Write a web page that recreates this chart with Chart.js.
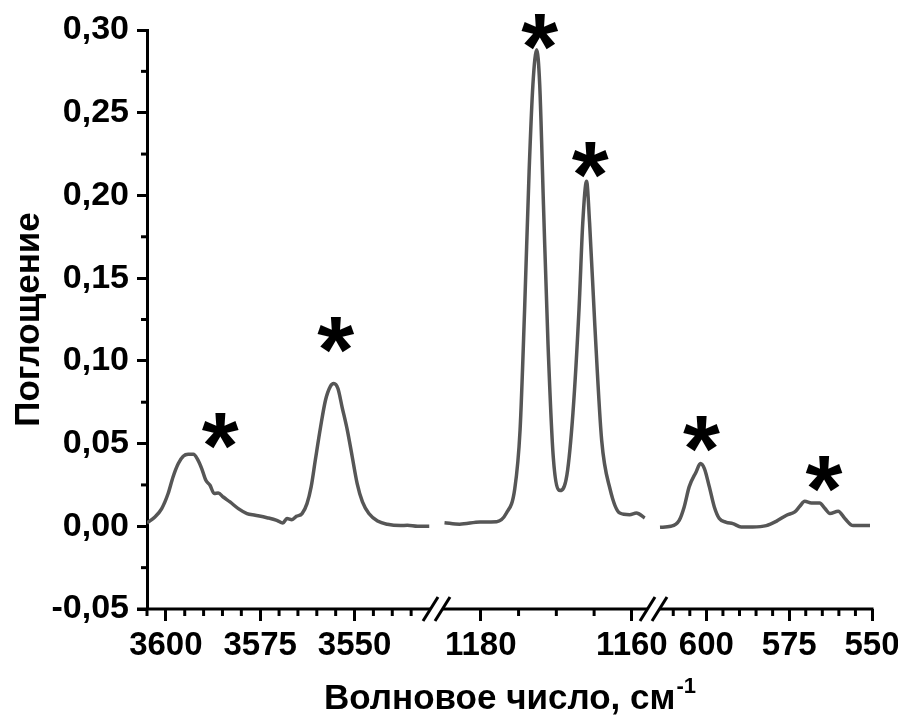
<!DOCTYPE html>
<html>
<head>
<meta charset="utf-8">
<style>
  html, body { margin: 0; padding: 0; background: #fff; }
</style>
<script src="https://cdn.jsdelivr.net/npm/chart.js@4.4.1/dist/chart.umd.min.js"></script>
</head>
<body>
<canvas id="myChart" width="898" height="722"></canvas>
<script>
// spectrum pieces, wavenumber (cm-1) and absorbance
const wn1 = [3605.0, 3602.9, 3601.1, 3599.4, 3598.1, 3596.7, 3595.4, 3594.1, 3592.7, 3591.7, 3590.5, 3589.4,
  3588.3, 3587.2, 3586.1, 3584.8, 3583.0, 3580.8, 3578.5, 3576.3, 3573.2, 3570.6, 3569.0, 3567.9, 3566.6,
  3565.4, 3563.9, 3562.6, 3561.5, 3560.4, 3559.0, 3557.7, 3556.4, 3555.5, 3554.4, 3553.3, 3551.9, 3550.6,
  3549.3, 3547.9, 3546.2, 3543.9, 3541.3, 3537.8, 3536.0, 3533.3, 3530.2];
const abs1 = [0.002, 0.0056, 0.0107, 0.0198, 0.0298, 0.0379, 0.0423, 0.0435, 0.0435, 0.0409, 0.0349, 0.0278,
  0.0248, 0.0198, 0.0201, 0.0177, 0.0147, 0.0107, 0.0077, 0.0067, 0.0052, 0.0036, 0.002, 0.0047, 0.004,
  0.006, 0.0077, 0.0137, 0.0238, 0.0399, 0.060, 0.0762, 0.0846, 0.0863, 0.0833, 0.0721, 0.058, 0.0419,
  0.0258, 0.0147, 0.0077, 0.0032, 0.0012, 0.0004, 0.0006, 0.0, 0.0];

const wn2 = [1184.8, 1182.8, 1180.1, 1177.9, 1176.6, 1175.5, 1174.8, 1174.2, 1173.6, 1173.1, 1172.6, 1172.2,
  1171.7, 1171.1, 1170.4, 1169.5, 1168.6, 1167.8, 1167.0, 1166.5, 1166.0, 1165.6, 1164.9, 1164.0, 1162.9,
  1161.6, 1160.3, 1159.4, 1158.3];
const abs2 = [0.0022, 0.0013, 0.0026, 0.0028, 0.0080, 0.0227, 0.0582, 0.131, 0.2148, 0.267, 0.288, 0.267,
  0.194, 0.110, 0.0415, 0.0216, 0.031, 0.0686, 0.131, 0.1835, 0.2086, 0.1835, 0.121, 0.052, 0.0227,
  0.008, 0.007, 0.008, 0.005];

const wn3 = [614.0, 610.7, 608.2, 606.7, 605.2, 603.1, 601.8, 600.6, 599.1, 597.6, 596.1, 594.0, 592.0, 589.5,
  586.0, 581.9, 578.9, 575.8, 573.3, 571.8, 570.3, 568.3, 565.8, 564.2, 562.7, 560.2, 558.2, 555.7, 550.6];
const abs3 = [-0.0006, 0.0, 0.0036, 0.0117, 0.0238, 0.0328, 0.0379, 0.0349, 0.0238, 0.0117, 0.0047, 0.0024,
  0.0016, -0.0004, -0.0004, 0.0004, 0.003, 0.0067, 0.0087, 0.0121, 0.0151, 0.0141, 0.0141, 0.0107, 0.0077,
  0.0091, 0.0047, 0.0004, 0.0004];

// asterisks over the marked bands
const starWn = [3585.6, 3555, 1172.2, 1165.5, 601.5, 564.5];
const starAbs = [0.0575, 0.1155, 0.299, 0.2215, 0.0556, 0.0318];

const xMajor = [3600, 3575, 3550, 1180, 1160, 600, 575, 550];
const xMinor = [3605, 3595, 3590, 3585, 3580, 3570, 3565, 3560, 3555, 3545, 3540, 3535,
  1175, 1170, 1165,
  610, 605, 595, 590, 585, 580, 570, 565, 560, 555];
const yMajor = [-0.05, 0, 0.05, 0.10, 0.15, 0.20, 0.25, 0.30];
const yMinor = [-0.025, 0.025, 0.075, 0.125, 0.175, 0.225, 0.275];

// broken x axis: each piece of wavenumbers gets a share of the width
const pieces = [
  { from: 3605, to: 3530, v0: 0, v1: 283 },
  { from: 1185, to: 1158, v0: 296, v1: 500 },
  { from: 614, to: 550, v0: 513, v1: 725 },
];
const vTotal = 725;

const toVirtual = (w) => {
  for (const p of pieces) {
    if (w <= p.from + 0.01 && w >= p.to - 0.01) {
      return p.v0 + (p.from - w) / (p.from - p.to) * (p.v1 - p.v0);
    }
  }
  return NaN;
};

class BrokenScale extends Chart.LinearScale {
  getPixelForValue(value) {
    return this.left + this.width * toVirtual(value) / vTotal;
  }
}
BrokenScale.id = 'broken';
BrokenScale.defaults = Chart.LinearScale.defaults;
Chart.register(BrokenScale);

const FONT = '"Liberation Sans", Arial, sans-serif';
Chart.defaults.font.family = FONT;

const lineDs = (w, a) => ({
  data: w.map((x, i) => ({ x: x, y: a[i] })),
  borderColor: '#565656',
  borderWidth: 3.5,
  pointRadius: 0,
  cubicInterpolationMode: 'monotone',
  fill: false,
});

const decor = {
  id: 'decor',
  afterDraw(chart) {
    const c = chart.ctx;
    const xs = chart.scales.x;
    const ys = chart.scales.y;
    const area = chart.chartArea;
    c.save();
    c.strokeStyle = '#000';
    c.fillStyle = '#000';
    c.lineWidth = 3;

    // broken x axis line with // marks
    const y0 = xs.top;
    const breaks = [];
    for (let i = 0; i < pieces.length - 1; i++) {
      breaks.push(xs.left + xs.width * (pieces[i].v1 + pieces[i + 1].v0) / 2 / vTotal);
    }
    let start = area.left - 10;
    breaks.forEach(bx => {
      c.beginPath();
      c.moveTo(start, y0);
      c.lineTo(bx - 6, y0);
      c.stroke();
      [-6, 6].forEach(off => {
        c.beginPath();
        c.moveTo(bx + off - 7.5, y0 + 12);
        c.lineTo(bx + off + 7.5, y0 - 12);
        c.stroke();
      });
      start = bx + 6;
    });
    c.beginPath();
    c.moveTo(start, y0);
    c.lineTo(area.right + 1.5, y0);
    c.stroke();

    // minor ticks
    xMinor.forEach(w => {
      const px = xs.getPixelForValue(w);
      c.beginPath();
      c.moveTo(px, y0);
      c.lineTo(px, y0 + 7);
      c.stroke();
    });
    yMinor.forEach(v => {
      const py = ys.getPixelForValue(v);
      c.beginPath();
      c.moveTo(area.left, py);
      c.lineTo(area.left - 6, py);
      c.stroke();
    });

    // asterisks
    c.font = 'bold 100px ' + FONT;
    let m = c.measureText('*');
    const size = 100 * 37 / (m.actualBoundingBoxLeft + m.actualBoundingBoxRight);
    c.font = 'bold ' + size + 'px ' + FONT;
    m = c.measureText('*');
    c.textAlign = 'left';
    c.textBaseline = 'alphabetic';
    starWn.forEach((w, i) => {
      const cx = xs.getPixelForValue(w);
      const cy = ys.getPixelForValue(starAbs[i]);
      const tx = cx - (m.actualBoundingBoxRight - m.actualBoundingBoxLeft) / 2;
      const ty = cy + (m.actualBoundingBoxAscent - m.actualBoundingBoxDescent) / 2;
      c.fillText('*', tx, ty);
    });

    // x axis title with superscript
    const main = 'Волновое число, см';
    const sup = '-1';
    c.font = 'bold 35px ' + FONT;
    const w1 = c.measureText(main).width;
    c.font = 'bold 22px ' + FONT;
    const w2 = c.measureText(sup).width;
    const tx0 = (area.left + area.right) / 2 - (w1 + w2) / 2;
    const base = 709;
    c.font = 'bold 35px ' + FONT;
    c.fillText(main, tx0, base);
    c.font = 'bold 22px ' + FONT;
    c.fillText(sup, tx0 + w1 + 1, base - 16);
    c.restore();
  }
};

const ctx = document.getElementById('myChart');
new Chart(ctx, {
  type: 'line',
  data: {
    datasets: [lineDs(wn1, abs1), lineDs(wn2, abs2), lineDs(wn3, abs3)]
  },
  options: {
    responsive: false,
    animation: false,
    events: [],
    layout: { padding: { top: 30, right: 26, bottom: 0, left: 0 } },
    plugins: {
      legend: { display: false },
      tooltip: { enabled: false },
    },
    scales: {
      x: {
        type: 'broken',
        min: 550,
        max: 3605,
        afterBuildTicks: s => { s.ticks = xMajor.map(v => ({ value: v })); },
        afterFit: s => { s.height = 113; s.paddingLeft = 0; s.paddingRight = 0; },
        ticks: {
          autoSkip: false,
          maxRotation: 0,
          padding: 5,
          color: '#000',
          font: { size: 33, weight: 'bold' },
          callback: v => String(v),
        },
        grid: { drawOnChartArea: false, drawTicks: true, tickLength: 12, tickWidth: 3, tickColor: '#000' },
        border: { display: false },
      },
      y: {
        min: -0.05,
        max: 0.30,
        afterBuildTicks: s => { s.ticks = yMajor.map(v => ({ value: v })); },
        afterFit: s => { s.width = 147; s.paddingTop = 0; s.paddingBottom = 0; },
        ticks: {
          padding: 8,
          color: '#000',
          font: { size: 34, weight: 'bold' },
          callback: v => v.toFixed(2).replace('.', ','),
        },
        grid: { drawOnChartArea: false, drawTicks: true, tickLength: 10, tickWidth: 3, tickColor: '#000' },
        border: { display: true, color: '#000', width: 3 },
        title: {
          display: true,
          text: 'Поглощение',
          color: '#000',
          font: { size: 35, weight: 'bold' },
          padding: { top: 8, bottom: 0 },
        },
      },
    },
  },
  plugins: [decor],
});
</script>
</body>
</html>
